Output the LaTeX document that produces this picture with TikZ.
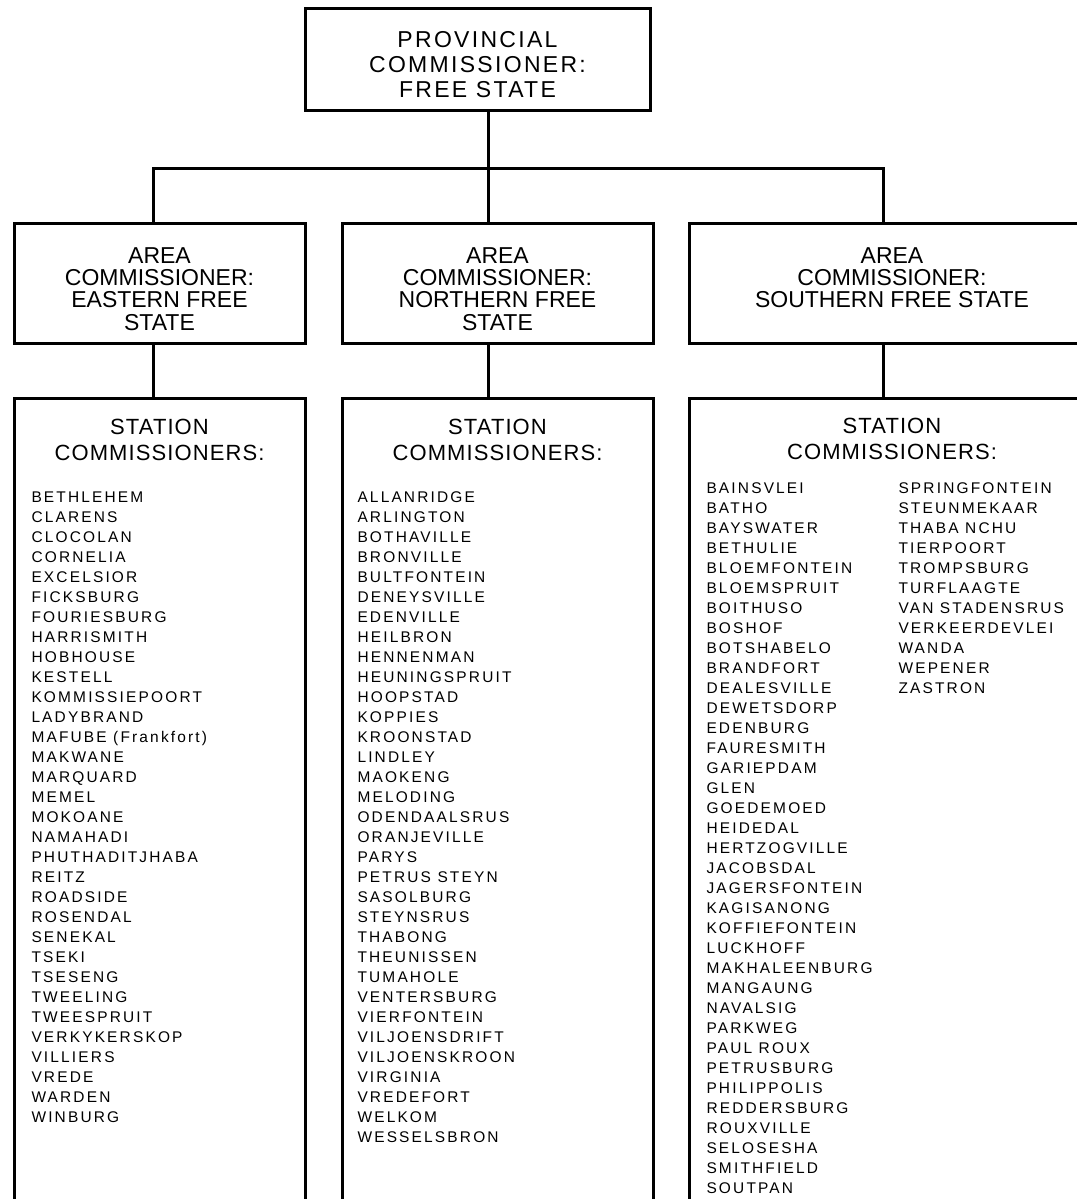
\documentclass[tikz,border=0pt]{standalone}
\usepackage{fontspec}
\setmainfont{Liberation Sans}
\newfontfamily\topfont[LetterSpace=10]{Liberation Sans}
\newfontfamily\headfont[LetterSpace=5]{Liberation Sans}
\newfontfamily\listfont[LetterSpace=14]{Liberation Sans}

\tikzset{
    box/.style={draw, line width=2.25pt, inner sep=0pt, outer sep=0pt},
    toptext/.style={anchor=north, align=center, inner sep=0pt, font=\topfont\fontsize{17.25}{18.75}\selectfont},
    areatext/.style={anchor=north, align=center, inner sep=0pt, font=\fontsize{17.25}{16.75}\selectfont},
    stntext/.style={anchor=north, align=center, inner sep=0pt, font=\headfont\fontsize{16.5}{19.2}\selectfont},
    stn/.style={anchor=base west, inner sep=0pt, font=\listfont\fontsize{11.6}{15}\selectfont}
}

\begin{document}
\begin{tikzpicture}[x=0.75pt, y=-0.75pt, line width=2.25pt]
            \clip (0,0) rectangle (1077,1199);
            \fill[white] (0,0) rectangle (1077,1199);

            %%provincial commissioner
            \node[box, minimum width=258.75pt, minimum height=76.5pt] (prov) at (477.5,59) {};
                \node[toptext] (provtxt) at (477.5,30) {PROVINCIAL\\COMMISSIONER:\\FREE STATE};

            %%area commissioners
            \node[box, minimum width=218.25pt, minimum height=90pt] (areaE) at (159.5,283) {};
                \node[areatext] (areaEtxt) at (159.5,246) {AREA\\COMMISSIONER:\\EASTERN FREE\\STATE};
            \node[box, minimum width=233.25pt, minimum height=90pt] (areaN) at (497.5,283) {};
                \node[areatext] (areaNtxt) at (497.5,246) {AREA\\COMMISSIONER:\\NORTHERN FREE\\STATE};
            \node[box, minimum width=303pt, minimum height=90pt] (areaS) at (891,283) {};
                \node[areatext] (areaStxt) at (892,246) {AREA\\COMMISSIONER:\\SOUTHERN FREE STATE};

            %%station commissioners
            \node[box, minimum width=218.25pt, minimum height=612.75pt] (stnE) at (159.5,806.5) {};
                \node[stntext] (stnEtxt) at (159.5,418) {STATION\\COMMISSIONERS:};
            \node[box, minimum width=233.25pt, minimum height=612.75pt] (stnN) at (497.5,806.5) {};
                \node[stntext] (stnNtxt) at (497.5,418) {STATION\\COMMISSIONERS:};
            \node[box, minimum width=303pt, minimum height=612.75pt] (stnS) at (891,806.5) {};
                \node[stntext] (stnStxt) at (892,417) {STATION\\COMMISSIONERS:};

            %%draw the lines
            \coordinate (jE) at (153,168);
            \coordinate (jN) at (488,168);
            \coordinate (jS) at (883,168);
            \draw (prov.south -| jN) to (jN);
            \draw (areaE.north -| jE) -- (jE) -- (jS) -- (areaS.north -| jS);
            \draw (jN) to (areaN.north -| jN);
            \draw (areaE.south -| jE) to (stnE.north -| jE);
            \draw (areaN.south -| jN) to (stnN.north -| jN);
            \draw (areaS.south -| jS) to (stnS.north -| jS);

            %%station lists
            \foreach \name [count=\i] in {BETHLEHEM, CLARENS, CLOCOLAN, CORNELIA, EXCELSIOR, FICKSBURG,
                FOURIESBURG, HARRISMITH, HOBHOUSE, KESTELL, KOMMISSIEPOORT, LADYBRAND, {MAFUBE (Frankfort)},
                MAKWANE, MARQUARD, MEMEL, MOKOANE, NAMAHADI, PHUTHADITJHABA, REITZ, ROADSIDE, ROSENDAL,
                SENEKAL, TSEKI, TSESENG, TWEELING, TWEESPRUIT, VERKYKERSKOP, VILLIERS, VREDE, WARDEN, WINBURG}
                \node[stn] (e\i) at (30, 482+20*\i) {\name};

            \foreach \name [count=\i] in {ALLANRIDGE, ARLINGTON, BOTHAVILLE, BRONVILLE, BULTFONTEIN,
                DENEYSVILLE, EDENVILLE, HEILBRON, HENNENMAN, HEUNINGSPRUIT, HOOPSTAD, KOPPIES, KROONSTAD,
                LINDLEY, MAOKENG, MELODING, ODENDAALSRUS, ORANJEVILLE, PARYS, PETRUS STEYN, SASOLBURG,
                STEYNSRUS, THABONG, THEUNISSEN, TUMAHOLE, VENTERSBURG, VIERFONTEIN, VILJOENSDRIFT,
                VILJOENSKROON, VIRGINIA, VREDEFORT, WELKOM, WESSELSBRON}
                \node[stn] (n\i) at (356, 482+20*\i) {\name};

            \foreach \name [count=\i] in {BAINSVLEI, BATHO, BAYSWATER, BETHULIE, BLOEMFONTEIN, BLOEMSPRUIT,
                BOITHUSO, BOSHOF, BOTSHABELO, BRANDFORT, DEALESVILLE, DEWETSDORP, EDENBURG, FAURESMITH,
                GARIEPDAM, GLEN, GOEDEMOED, HEIDEDAL, HERTZOGVILLE, JACOBSDAL, JAGERSFONTEIN, KAGISANONG,
                KOFFIEFONTEIN, LUCKHOFF, MAKHALEENBURG, MANGAUNG, NAVALSIG, PARKWEG, PAUL ROUX, PETRUSBURG,
                PHILIPPOLIS, REDDERSBURG, ROUXVILLE, SELOSESHA, SMITHFIELD, SOUTPAN}
                \node[stn] (s\i) at (705, 473+20*\i) {\name};
            \foreach \name [count=\i] in {SPRINGFONTEIN, STEUNMEKAAR, THABA NCHU, TIERPOORT, TROMPSBURG,
                TURFLAAGTE, VAN STADENSRUS, VERKEERDEVLEI, WANDA, WEPENER, ZASTRON}
                \node[stn] (t\i) at (897, 473+20*\i) {\name};
\end{tikzpicture}
\end{document}
